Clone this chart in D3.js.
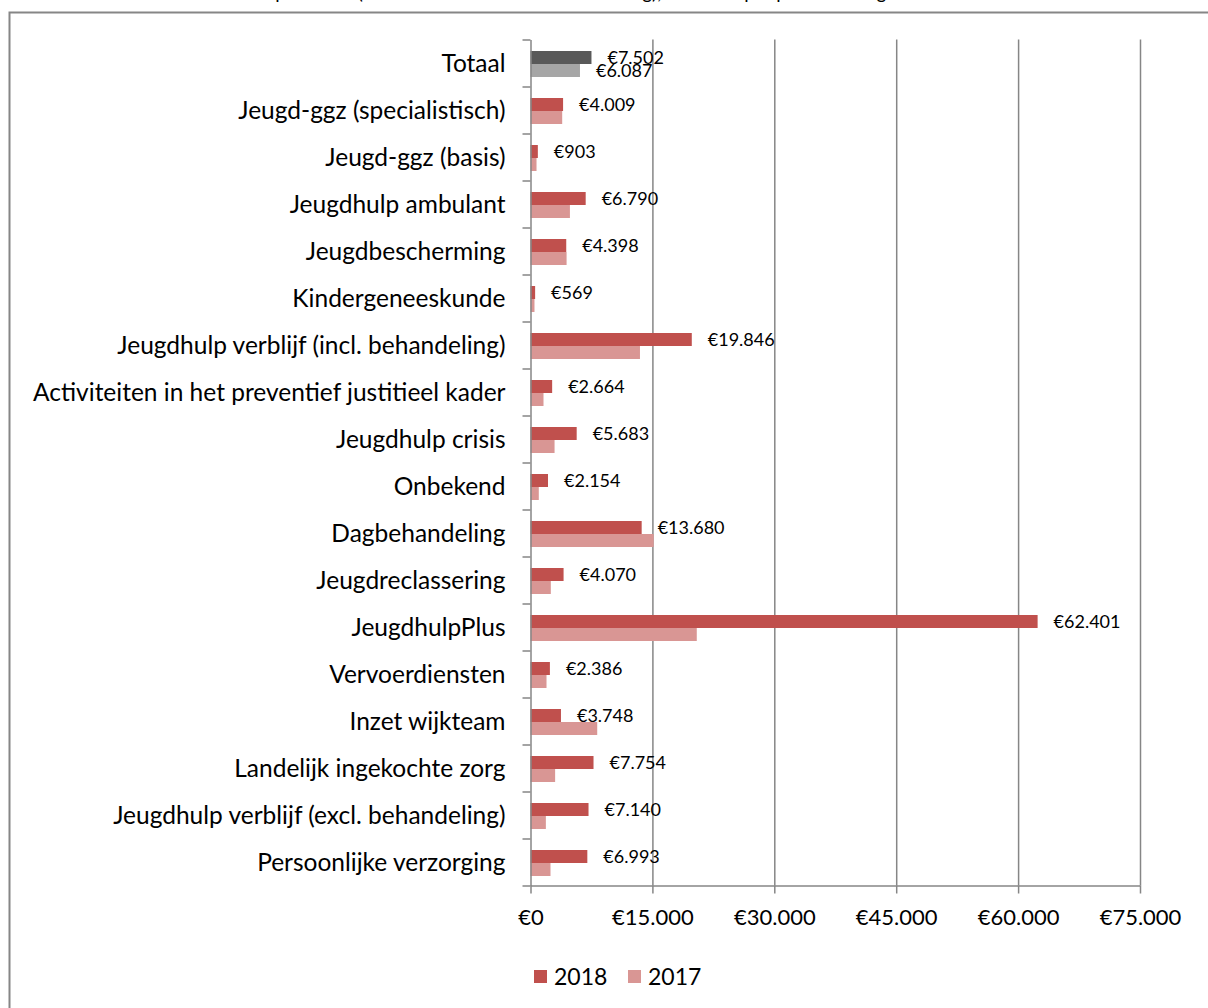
<!DOCTYPE html>
<html>
<head>
<meta charset="utf-8">
<script src="https://cdn.jsdelivr.net/npm/d3@7"></script>
<style>
  body { margin: 0; background: #fff; }
  svg { font-family: Lato, "Open Sans", sans-serif; }
</style>
</head>
<body>
<div id="canvas"></div>
<script>
const categories = [
  "Totaal",
  "Jeugd-ggz (specialistisch)",
  "Jeugd-ggz (basis)",
  "Jeugdhulp ambulant",
  "Jeugdbescherming",
  "Kindergeneeskunde",
  "Jeugdhulp verblijf (incl. behandeling)",
  "Activiteiten in het preventief justitieel kader",
  "Jeugdhulp crisis",
  "Onbekend",
  "Dagbehandeling",
  "Jeugdreclassering",
  "JeugdhulpPlus",
  "Vervoerdiensten",
  "Inzet wijkteam",
  "Landelijk ingekochte zorg",
  "Jeugdhulp verblijf (excl. behandeling)",
  "Persoonlijke verzorging"
];
const values2018 = [7502, 4009, 903, 6790, 4398, 569, 19846, 2664, 5683, 2154, 13680, 4070, 62401, 2386, 3748, 7754, 7140, 6993];
const values2017 = [6087, 3900, 740, 4850, 4440, 490, 13470, 1600, 2960, 1020, 15160, 2500, 20460, 1970, 8210, 3030, 1890, 2460];
const series = ["2018", "2017"];
const tickValues = [0, 15000, 30000, 45000, 60000, 75000];
const caption = "Grafiek 4.11 Gemiddelde kosten per cliënt (netto kosten voor alle soorten zorg), totaal en per productcategorie";

const width = 1208;
const height = 1008;
const margin = { top: 39.5, right: 68, bottom: 122.5, left: 530.5 };
const inWidth = width - margin.left - margin.right;
const inHeight = height - margin.top - margin.bottom;

const colors = { "2018": "#c0504d", "2017": "#d99694" };
const totalColors = { "2018": "#595959", "2017": "#a6a6a6" };
const gridColor = "#868686";

const euro = d3.formatLocale({ decimal: ",", thousands: ".", grouping: [3], currency: ["€", ""] }).format("$,.0f");

const data = categories.map((name, i) => ({ name, v2018: values2018[i], v2017: values2017[i] }));

const svg = d3.select("#canvas").append("svg")
  .attr("width", width)
  .attr("height", height);

// caption line, mostly cut off by the top edge as in the source
svg.append("text")
  .attr("x", 2)
  .attr("y", -1)
  .attr("font-size", 19)
  .attr("fill", "#000")
  .text(caption);

// chart frame
svg.append("rect")
  .attr("x", 9.5)
  .attr("y", 12.5)
  .attr("width", 1220)
  .attr("height", 1020)
  .attr("fill", "none")
  .attr("stroke", gridColor)
  .attr("stroke-width", 2);

const xScale = d3.scaleLinear().domain([0, 75000]).range([0, inWidth]);
const yScale = d3.scaleBand().domain(categories).range([0, inHeight]);
const step = 13;
const sub = d3.scaleBand().domain(series)
  .range([0, yScale.bandwidth()])
  .paddingOuter((yScale.bandwidth() - 2 * step) / 2 / step);
const slot = d3.scaleLinear().domain([0, categories.length]).range([0, inHeight]);

const g = svg.append("g")
  .attr("transform", `translate(${margin.left},${margin.top})`);

// vertical gridlines
g.append("g")
  .call(d3.axisBottom(xScale).tickValues(tickValues.slice(1)).tickSize(inHeight).tickFormat(""))
  .call(s => s.select(".domain").remove())
  .call(s => s.selectAll("line").attr("stroke", gridColor).attr("stroke-width", 1.5));

// bars
series.forEach(s => {
  g.append("g").selectAll("rect")
    .data(data)
    .enter()
    .append("rect")
    .attr("x", 0)
    .attr("y", d => yScale(d.name) + sub(s) + 1)
    .attr("width", d => xScale(d["v" + s]))
    .attr("height", sub.bandwidth())
    .attr("fill", d => d.name === "Totaal" ? totalColors[s] : colors[s]);
});

// value labels: 2018 for every row, both for Totaal
const labels = [];
data.forEach(d => {
  labels.push({ name: d.name, s: "2018", v: d.v2018 });
  if (d.name === "Totaal") labels.push({ name: d.name, s: "2017", v: d.v2017 });
});
g.append("g").selectAll("text")
  .data(labels)
  .enter()
  .append("text")
  .attr("x", d => xScale(d.v) + 16)
  .attr("y", d => yScale(d.name) + sub(d.s) + sub.bandwidth() / 2 + 1)
  .attr("dy", "0.35em")
  .attr("font-size", 18)
  .attr("fill", "#000")
  .text(d => euro(d.v));

// category axis, ticks between categories
const yAxis = g.append("g")
  .call(d3.axisLeft(slot).tickValues(d3.range(categories.length + 1)).tickSize(8).tickSizeOuter(0).tickFormat(""));
yAxis.selectAll("line,path").attr("stroke", gridColor).attr("stroke-width", 1.5);

g.append("g").selectAll("text")
  .data(categories)
  .enter()
  .append("text")
  .attr("x", -25)
  .attr("y", d => yScale(d) + yScale.bandwidth() / 2)
  .attr("dy", "0.35em")
  .attr("text-anchor", "end")
  .attr("font-size", 24.5)
  .attr("fill", "#000")
  .text(d => d);

// value axis
const xAxis = g.append("g")
  .attr("transform", `translate(0,${inHeight})`)
  .call(d3.axisBottom(xScale).tickValues(tickValues).tickSize(8).tickSizeOuter(0).tickPadding(16).tickFormat(euro));
xAxis.selectAll("line,path").attr("stroke", gridColor).attr("stroke-width", 1.5);
xAxis.selectAll("text").attr("font-size", 22).attr("fill", "#000").attr("font-family", "Lato, sans-serif");

// legend
const legend = svg.append("g").attr("transform", "translate(534,970)");
series.forEach((s, i) => {
  const item = legend.append("g").attr("transform", `translate(${i * 94},0)`);
  item.append("rect").attr("width", 13).attr("height", 13).attr("fill", colors[s]);
  item.append("text")
    .attr("x", 20)
    .attr("y", 6.5)
    .attr("dy", "0.35em")
    .attr("font-size", 23)
    .attr("fill", "#000")
    .text(s);
});
</script>
</body>
</html>
